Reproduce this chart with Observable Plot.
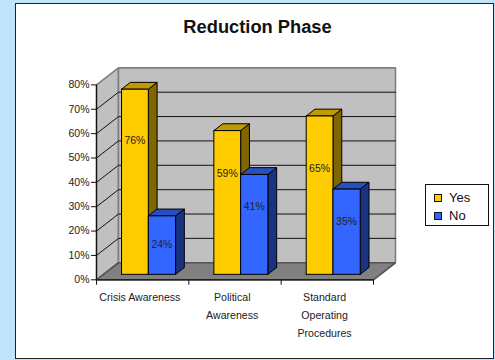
<!DOCTYPE html>
<html>
<head>
<meta charset="utf-8">
<script src="https://cdn.jsdelivr.net/npm/d3@7"></script>
<script src="https://cdn.jsdelivr.net/npm/@observablehq/plot@0.6"></script>
<style>
  html, body { margin: 0; padding: 0; background: #bfe4fa; }
  body { width: 495px; height: 360px; position: relative; overflow: hidden; font-family: "Liberation Sans", Arial, sans-serif; color: #111; }
  #frame { position: absolute; left: 15px; top: 3px; width: 477px; height: 354px; background: #fff; border: 1.5px solid #222; }
  #chart { position: absolute; left: 0; top: 0; }
  #title { position: absolute; left: 19px; width: 477px; top: 17px; text-align: center; font-weight: bold; font-size: 18.3px; line-height: 20px; }
  #legend { position: absolute; left: 425px; top: 184px; width: 62px; height: 40px; background: #fff; border: 1px solid #111; font-size: 13px; }
  #legend div { position: absolute; left: 23px; line-height: 16px; }
  #legend i { position: absolute; left: -15px; top: 4px; width: 6px; height: 6px; border: 1px solid #111; }
</style>
</head>
<body>
<div id="frame"></div>
<div id="chart"></div>
<div id="title">Reduction Phase</div>
<div id="legend"></div>
<script>
const categories = [["Crisis Awareness"], ["Political", "Awareness"], ["Standard", "Operating", "Procedures"]];
const seriesNames = ["Yes", "No"];
const yesValues = [76, 59, 65];
const noValues = [24, 41, 35];
const axisTicks = [0, 10, 20, 30, 40, 50, 60, 70, 80];

const frontColors = { Yes: "#ffcc00", No: "#3366ff" };
const topColors = { Yes: "#c09a00", No: "#2650bf" };
const sideColors = { Yes: "#806600", No: "#1a3380" };

// Oblique projection: depth 0 is the front plane, depth 1 the back wall.
const depthX = 0.238;   // category widths
const depthY = 7.0;     // percentage points
const project = (c, v, d) => ({ x: c + d * depthX, y: v + d * depthY });

const barFront = 0.32, barBack = 0.72;
const slots = { Yes: [0.195, 0.485], No: [0.485, 0.78] };

// Closed polygons, one group per face, listed back to front.
const faces = [];
function face(id, fill, stroke, pts) {
  [...pts, pts[0]].forEach(p => faces.push({ id, fill, stroke, ...project(...p) }));
}
face("wall-left", "#c0c0c0", "#808080", [[0, 0, 0], [0, 80, 0], [0, 80, 1], [0, 0, 1]]);
face("wall-back", "#c0c0c0", "#808080", [[0, 0, 1], [0, 80, 1], [3, 80, 1], [3, 0, 1]]);
face("floor", "#808080", "#555", [[0, 0, 0], [3, 0, 0], [3, 0, 1], [0, 0, 1]]);

const grid = axisTicks.slice(1, -1).flatMap(v => [
  { id: "s" + v, ...project(0, v, 0) }, { id: "s" + v, ...project(0, v, 1) }, { id: "s" + v, ...project(3, v, 1) }
]);

categories.forEach((_, i) => {
  seriesNames.forEach(name => {
    const value = (name === "Yes" ? yesValues : noValues)[i];
    const [a, b] = slots[name].map(s => i + s);
    const key = name + i;
    face(key + "side", sideColors[name], "#000", [[b, 0, barFront], [b, value, barFront], [b, value, barBack], [b, 0, barBack]]);
    face(key + "top", topColors[name], "#000", [[a, value, barFront], [b, value, barFront], [b, value, barBack], [a, value, barBack]]);
    face(key + "front", frontColors[name], "#000", [[a, 0, barFront], [a, value, barFront], [b, value, barFront], [b, 0, barFront]]);
  });
});

// Value labels sit part of the way down each bar's front face.
const labelDrop = { Yes: [0.28, 0.3, 0.33], No: [0.5, 0.32, 0.38] };
const labels = categories.flatMap((_, i) => seriesNames.map(name => {
  const value = (name === "Yes" ? yesValues : noValues)[i];
  const [a, b] = slots[name];
  return { text: value + "%", ...project(i + (a + b) / 2, value * (1 - labelDrop[name][i]), barFront) };
}));

const categoryLabels = categories.map((lines, i) => ({ x: i + 0.47, text: lines.join("\n") }));
const isShell = f => /^(wall|floor)/.test(f.id);

const chart = Plot.plot({
  width: 495,
  height: 360,
  marginLeft: 96, marginRight: 122, marginTop: 84, marginBottom: 81,
  style: { background: "transparent", fontFamily: "'Liberation Sans', Arial, sans-serif", overflow: "visible" },
  x: { domain: [0, 3], range: [96, 373], axis: null },
  y: { domain: [0, 80], range: [279.3, 84.4], axis: null },
  marks: [
    // Walls and floor go first, gridlines over them, bars last.
    Plot.line(faces.filter(isShell), { x: "x", y: "y", z: "id", fill: "fill", stroke: "stroke", strokeWidth: 1.6, strokeLinejoin: "miter", curve: "linear" }),
    Plot.line(grid, { x: "x", y: "y", z: "id", stroke: "#111", strokeWidth: 1, curve: "linear" }),
    Plot.line(faces.filter(f => !isShell(f)), { x: "x", y: "y", z: "id", fill: "fill", stroke: "stroke", strokeWidth: 1, strokeLinejoin: "miter", curve: "linear" }),
    Plot.text(labels, { x: "x", y: "y", text: "text", fontSize: 10.5, fill: "#222" }),
    Plot.axisY({ ticks: axisTicks, tickSize: 5, tickPadding: 2, tickFormat: d => d + "%", fontSize: 10.5, anchor: "left", label: null, stroke: "#111", color: "#222" }),
    Plot.ruleX([0], { y1: 0, y2: 80, stroke: "#111", strokeWidth: 1.2 }),
    Plot.ruleY([0], { x1: 0, x2: 3, stroke: "#111", strokeWidth: 1.2 }),
    Plot.ruleX([0, 1, 2, 3], { y1: 0, y2: -2.2, stroke: "#111" }),
    Plot.text(categoryLabels, { x: "x", y: 0, dy: 8, text: "text", lineAnchor: "top", lineHeight: 1.7, fontSize: 10.6, fill: "#222" })
  ]
});
document.getElementById("chart").appendChild(chart);

// Legend entries
const legend = document.getElementById("legend");
seriesNames.forEach((name, i) => {
  const row = document.createElement("div");
  row.style.top = (5 + i * 17.5) + "px";
  const swatch = document.createElement("i");
  swatch.style.background = frontColors[name];
  row.appendChild(swatch);
  row.appendChild(document.createTextNode(name));
  legend.appendChild(row);
});
</script>
</body>
</html>
